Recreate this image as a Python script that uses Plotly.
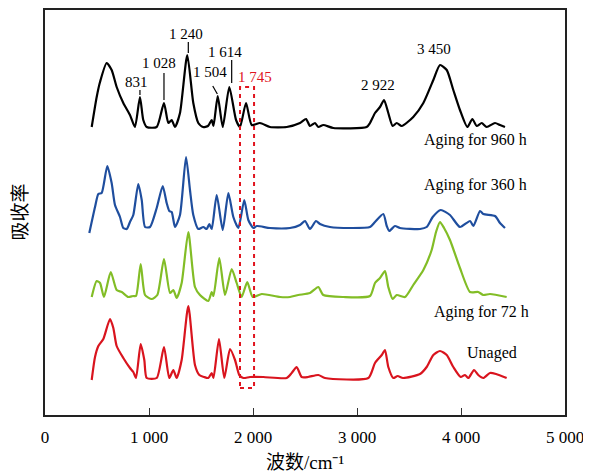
import plotly.graph_objects as go

# ---- data (wavenumber cm^-1, absorbance in arbitrary offset units) ----
wn_960 = [449, 497, 529, 593, 641, 689, 753, 817, 865, 913, 945, 978, 1074, 1144, 1186, 1218, 1250, 1298, 1368, 1426,
          1474, 1519, 1567, 1603, 1620, 1661, 1709, 1772, 1837, 1875, 1933, 1988, 2067, 2163, 2324, 2452, 2510, 2548,
          2596, 2628, 2676, 2772, 3093, 3125, 3173, 3221, 3260, 3301, 3343, 3382, 3430, 3541, 3638, 3734, 3798, 3863,
          3926, 3990, 4061, 4109, 4151, 4199, 4247, 4327, 4375, 4423]
ab_960 = [288, 318, 333, 352, 345, 328, 312, 300, 288, 318, 295, 288, 288, 312, 292, 295, 288, 302, 360, 312,
          292, 288, 289, 295, 289, 319, 288, 328, 295, 288, 312, 290, 292, 288, 288, 292, 296, 289,
          292, 288, 290, 287, 288, 292, 302, 308, 315, 302, 289, 292, 289, 298, 312, 335, 350, 345,
          325, 305, 288, 296, 289, 292, 288, 292, 290, 288]

wn_360 = [426, 481, 513, 545, 599, 641, 673, 721, 753, 786, 817, 849, 897, 930, 962, 1010, 1074, 1132, 1170, 1195,
          1218, 1250, 1298, 1356, 1394, 1426, 1474, 1522, 1555, 1580, 1603, 1651, 1709, 1763, 1811, 1859, 1916, 1955,
          2003, 2036, 2163, 2356, 2452, 2500, 2548, 2606, 2644, 2740, 2933, 3125, 3173, 3253, 3286, 3310, 3365, 3413,
          3606, 3670, 3728, 3805, 3894, 3990, 4087, 4119, 4183, 4215, 4327, 4375, 4423]
ab_360 = [182, 208, 221, 222, 249, 232, 210, 198, 187, 186, 193, 200, 231, 215, 188, 188, 207, 229, 212, 204,
          203, 188, 200, 258, 225, 200, 186, 188, 186, 191, 186, 220, 185, 222, 198, 187, 215, 195,
          187, 189, 187, 187, 190, 194, 186, 194, 191, 188, 187, 188, 193, 201, 189, 184, 189, 187,
          186, 188, 198, 205, 200, 188, 194, 189, 204, 201, 199, 192, 187]

wn_72 = [449, 497, 529, 567, 632, 689, 738, 801, 846, 875, 920, 962, 1026, 1080, 1144, 1202, 1234, 1266, 1314, 1378,
         1442, 1490, 1570, 1603, 1620, 1676, 1731, 1795, 1843, 1891, 1945, 1997, 2084, 2260, 2356, 2436, 2548, 2628,
         2676, 2868, 3125, 3173, 3221, 3269, 3301, 3343, 3382, 3462, 3541, 3638, 3718, 3760, 3798, 3837, 3894, 3990,
         4087, 4166, 4215, 4279, 4439]
ab_72 = [118, 134, 132, 118, 143, 125, 123, 118, 119, 119, 151, 120, 116, 120, 156, 122, 125, 117, 132, 183,
         128, 120, 114, 123, 119, 157, 120, 146, 132, 118, 133, 118, 121, 118, 118, 120, 122, 128,
         120, 118, 119, 132, 137, 144, 128, 116, 120, 118, 130, 145, 165, 183, 193, 187, 175, 147,
         123, 123, 120, 121, 118]

wn_0 = [449, 481, 513, 561, 625, 657, 689, 753, 817, 849, 875, 920, 955, 978, 1074, 1144, 1195, 1234, 1266, 1314,
        1378, 1442, 1484, 1529, 1570, 1603, 1620, 1673, 1724, 1779, 1827, 1868, 1907, 1971, 2099, 2324, 2372, 2420,
        2468, 2529, 2628, 2692, 3109, 3173, 3238, 3269, 3301, 3349, 3391, 3442, 3606, 3670, 3734, 3798, 3863, 3926,
        3997, 4038, 4071, 4125, 4166, 4215, 4279, 4337, 4439]
ab_0 = [35, 58, 69, 76, 96, 87, 69, 57, 47, 43, 37, 71, 55, 37, 37, 68, 37, 45, 37, 55,
        109, 50, 40, 38, 37, 42, 37, 76, 37, 66, 55, 40, 37, 38, 38, 37, 42, 48,
        38, 38, 40, 37, 37, 52, 60, 65, 48, 37, 39, 37, 41, 48, 60, 64, 60, 48,
        38, 40, 37, 45, 40, 37, 42, 41, 37]

series_names = ["Aging for 960 h", "Aging for 360 h", "Aging for 72 h", "Unaged"]
series_colors = ["#000000", "#1f4e9e", "#82bd26", "#d9141e"]

peak_labels = ["831", "1 028", "1 240", "1 504", "1 614", "2 922", "3 450"]
peak_label_x = [875, 1099, 1356, 1587, 1731, 3205, 3743]
peak_label_y = [333, 352, 381, 343, 363, 330, 366]

tick_vals = [0, 1000, 2000, 3000, 4000, 5000]
tick_text = ["0", "1 000", "2 000", "3 000", "4 000", "5 000"]

SERIF = "Liberation Serif, Times New Roman, Noto Sans CJK SC, serif"

fig = go.Figure()
for wn, ab, name, col in zip([wn_960, wn_360, wn_72, wn_0], [ab_960, ab_360, ab_72, ab_0],
                             series_names, series_colors):
    fig.add_trace(go.Scatter(x=wn, y=ab, mode="lines", name=name,
                             line=dict(color=col, width=2.2, shape="spline", smoothing=0.6),
                             showlegend=False))

# series labels
label_pos = [(4135, 275), (4144, 230), (4199, 103), (4295, 62)]
for name, (lx, ly) in zip(series_names, label_pos):
    fig.add_annotation(x=lx, y=ly, text=name, showarrow=False,
                       font=dict(family=SERIF, size=16, color="#000000"))

# peak labels
for t, lx, ly in zip(peak_labels, peak_label_x, peak_label_y):
    fig.add_annotation(x=lx, y=ly, text=t, showarrow=False,
                       font=dict(family=SERIF, size=15, color="#000000"))
fig.add_annotation(x=2019, y=338, text="1 745", showarrow=False,
                   font=dict(family=SERIF, size=15, color="#e0141e"))

# leader lines
leaders = [((913, 325), (913, 320)), ((1144, 342), (1144, 315)), ((1378, 373), (1378, 362)),
           ((1613, 329), (1657, 321)), ((1795, 355), (1795, 332))]
for (x0, y0), (x1, y1) in leaders:
    fig.add_shape(type="line", x0=x0, y0=y0, x1=x1, y1=y1, line=dict(color="#000000", width=1.2))

# dashed box around 1745
fig.add_shape(type="rect", x0=1875, x1=2010, y0=27, y1=328,
              line=dict(color="#e0141e", width=2, dash="4px,4px"))

# axis titles (placed in paper space)
fig.add_annotation(xref="paper", yref="paper", x=0.5, y=0, yshift=-47, yanchor="middle", xanchor="center",
                   text="波数/cm⁻¹", showarrow=False, font=dict(family=SERIF, size=19))
fig.add_annotation(xref="paper", yref="paper", x=0, xshift=-25, y=0.5, xanchor="center", yanchor="middle",
                   text="吸收率", textangle=-90, showarrow=False, font=dict(family=SERIF, size=19))

# page body has an 8px default margin, so the figure is drawn 8px in from the top-left
fig.update_layout(
    width=583, height=467,
    margin=dict(l=37, r=26, t=2, b=60, autoexpand=False),
    paper_bgcolor="white", plot_bgcolor="white",
    font=dict(family=SERIF, size=15, color="#000000"),
    xaxis=dict(range=[0, 5000], tickvals=tick_vals, ticktext=tick_text, automargin=False,
               ticks="inside", ticklen=7, tickcolor="#333333", tickwidth=1, ticklabelstandoff=6,
               showline=True, mirror=True, linecolor="#222222", linewidth=1.5,
               showgrid=False, zeroline=False,
               tickfont=dict(family=SERIF, size=17)),
    yaxis=dict(range=[0, 405], showticklabels=False, ticks="", automargin=False,
               showline=True, mirror=True, linecolor="#222222", linewidth=1.5,
               showgrid=False, zeroline=False),
)

fig.write_html("out.html")
